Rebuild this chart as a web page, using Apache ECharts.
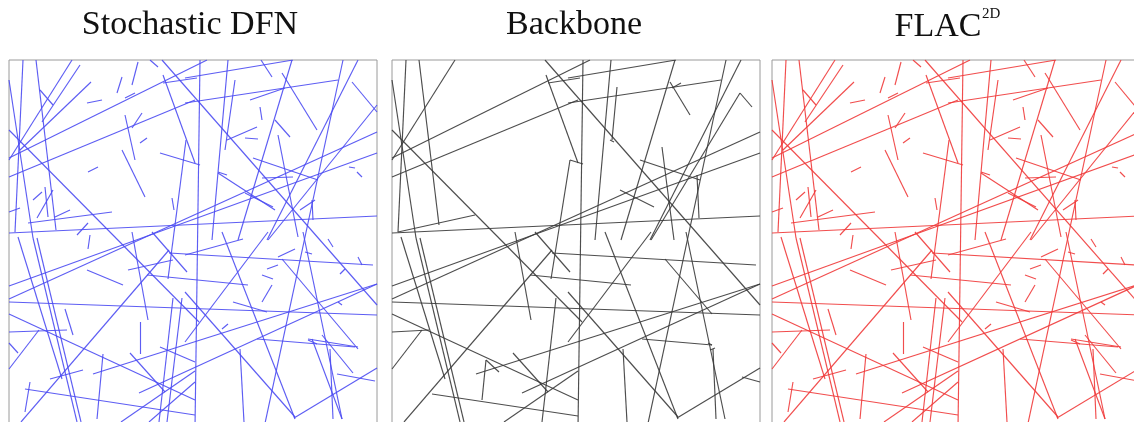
<!DOCTYPE html>
<html lang="en">
<head>
    <meta charset="utf-8">
    <title>DFN - Backbone - FLAC2D</title>
    <script src="https://cdn.jsdelivr.net/npm/echarts@6/dist/echarts.min.js"></script>
    <style>
        html, body { margin: 0; padding: 0; background: #fff; }
        #main { width: 1134px; height: 422px; }
    </style>
</head>
<body>
<div id="main"></div>
<script>
    // domain is 368 x 368 units, y measured downward from the top edge
    var domainSize = 368;

    // stochastic DFN fractures [x1, y1, x2, y2]
    var dfnSegments = [
        [14, 0, 6, 172], [0, 20, 24, 178], [24, 178, 68, 362], [27, 0, 47, 170], [63, 0, 0, 100],
        [71, 5, 33, 62], [82, 22, 11, 90], [31, 30, 44, 45], [0, 70, 190, 262],
        [0, 98, 198, 0], [0, 117, 186, 40], [78, 43, 93, 40], [108, 33, 113, 17],
        [116, 38, 126, 33], [123, 25, 129, 2], [116, 55, 126, 100], [123, 68, 133, 53],
        [131, 83, 138, 78], [113, 90, 136, 137], [79, 112, 89, 107], [163, 138, 165, 150],
        [24, 140, 33, 132], [36, 127, 39, 157], [28, 158, 44, 130], [0, 152, 11, 148],
        [46, 157, 61, 150], [68, 175, 79, 163], [19, 163, 103, 152], [151, 93, 191, 105],
        [154, 15, 186, 103], [177, 80, 159, 219], [154, 23, 188, 18], [0, 173, 368, 156],
        [0, 239, 368, 72], [176, 18, 284, 0], [176, 43, 329, 20], [191, 0, 186, 368],
        [219, 0, 203, 180], [226, 20, 216, 90], [153, 0, 368, 245], [273, 13, 308, 70],
        [283, 0, 229, 180], [241, 40, 276, 28], [251, 47, 253, 60], [266, 60, 281, 77],
        [236, 78, 249, 79], [218, 80, 248, 67], [269, 75, 289, 177], [334, 0, 255, 368],
        [349, 0, 258, 180], [343, 22, 368, 52], [368, 45, 259, 180], [0, 226, 368, 93],
        [253, 118, 284, 117], [244, 98, 309, 120], [236, 133, 264, 147], [209, 113, 266, 150],
        [291, 150, 306, 140], [303, 140, 304, 160], [348, 112, 353, 117], [340, 107, 346, 108],
        [209, 112, 218, 115], [252, 0, 263, 17], [141, 0, 149, 7],
        [0, 242, 368, 255], [0, 272, 58, 270], [0, 254, 186, 340], [28, 178, 72, 362],
        [9, 177, 53, 319], [0, 309, 30, 270], [0, 283, 9, 293], [12, 362, 160, 190], [56, 249, 64, 275],
        [81, 175, 79, 189], [78, 210, 114, 225], [119, 210, 164, 200], [123, 172, 139, 260],
        [131, 262, 131, 294], [151, 287, 186, 302], [84, 314, 368, 224], [41, 319, 74, 310],
        [94, 294, 88, 359], [121, 293, 156, 332], [16, 329, 186, 355], [21, 322, 16, 352],
        [112, 362, 186, 311], [140, 362, 186, 322], [143, 172, 178, 212], [138, 215, 239, 225],
        [164, 238, 150, 362], [173, 238, 158, 362],
        [160, 193, 364, 205], [176, 195, 234, 179], [213, 172, 286, 359], [176, 232, 286, 357],
        [259, 172, 176, 282], [294, 172, 333, 359], [303, 279, 333, 359], [273, 199, 349, 289],
        [299, 279, 349, 287], [248, 279, 346, 287], [130, 333, 368, 224], [231, 289, 235, 362],
        [285, 358, 368, 308], [328, 314, 366, 321], [313, 275, 344, 313], [321, 289, 324, 359],
        [253, 215, 264, 219], [258, 209, 269, 205], [253, 242, 263, 225], [224, 242, 258, 252],
        [213, 269, 219, 264], [269, 197, 286, 189], [296, 192, 303, 194], [299, 280, 308, 284],
        [319, 179, 324, 187], [349, 197, 353, 205], [331, 214, 336, 209], [329, 242, 333, 245]
    ];

    // connected backbone [x1, y1, x2, y2]
    var backboneSegments = [
        [14, 0, 6, 172], [0, 20, 24, 178], [24, 178, 68, 362], [27, 0, 47, 165], [63, 0, 0, 100],
        [0, 70, 190, 262], [0, 98, 198, 0], [0, 117, 186, 40], [176, 43, 329, 20],
        [6, 172, 83, 155], [0, 173, 368, 156], [0, 239, 368, 72], [0, 226, 368, 93],
        [154, 15, 186, 103], [156, 23, 188, 18], [178, 100, 159, 219], [178, 100, 191, 104],
        [153, 0, 368, 245], [191, 0, 186, 368], [176, 18, 284, 0], [219, 0, 203, 180],
        [225, 27, 220, 80], [218, 80, 222, 82], [278, 22, 298, 55], [280, 28, 289, 23],
        [283, 0, 229, 180], [334, 0, 255, 368], [349, 0, 258, 180], [348, 33, 259, 180],
        [348, 33, 360, 47], [270, 87, 282, 180], [248, 100, 308, 120], [228, 130, 262, 147],
        [305, 115, 307, 158],
        [0, 242, 368, 255], [0, 272, 37, 270], [0, 254, 186, 340], [28, 178, 72, 362],
        [9, 177, 53, 319], [0, 309, 30, 270], [12, 362, 160, 190], [84, 314, 368, 224],
        [40, 334, 186, 356], [94, 300, 90, 340], [94, 300, 107, 312], [123, 172, 139, 260],
        [112, 362, 186, 311], [121, 293, 156, 332], [160, 193, 364, 205], [138, 215, 239, 225],
        [164, 238, 150, 362],
        [213, 172, 286, 359], [176, 232, 286, 357], [259, 172, 176, 282], [273, 199, 320, 254],
        [250, 279, 320, 285], [320, 285, 316, 283], [294, 172, 333, 359], [130, 333, 368, 224],
        [231, 289, 235, 362], [285, 358, 368, 308], [350, 317, 368, 322], [321, 289, 324, 359],
        [318, 290, 323, 288], [143, 172, 178, 212]
    ];

    var panelTitles = ['Stochastic DFN', 'Backbone', 'FLAC'];
    var panelLefts = [9, 392, 772];
    var panelColors = ['#4b4bf2', '#3a3a3a', '#f03a3a'];
    var panelData = [dfnSegments, backboneSegments, dfnSegments];

    var myChart = echarts.init(document.getElementById('main'));

    var grids = [], xAxes = [], yAxes = [], series = [];
    for (var i = 0; i < 3; i++) {
        grids.push({
            left: panelLefts[i], top: 60, width: domainSize, height: domainSize,
            outerBoundsMode: 'none', containLabel: false,
            show: true, borderColor: '#9a9a9a', borderWidth: 1, backgroundColor: '#fff'
        });
        xAxes.push({ gridIndex: i, type: 'value', min: 0, max: domainSize, show: false });
        yAxes.push({ gridIndex: i, type: 'value', min: 0, max: domainSize, inverse: true, show: false });
        series.push({
            type: 'lines',
            coordinateSystem: 'cartesian2d',
            xAxisIndex: i,
            yAxisIndex: i,
            clip: true,
            silent: true,
            lineStyle: { color: panelColors[i], width: 1.15, opacity: 0.9, curveness: 0 },
            data: panelData[i].map(function (s) {
                return { coords: [[s[0], s[1]], [s[2], s[3]]] };
            })
        });
    }

    var titleFont = '34px "Liberation Serif", "Times New Roman", serif';
    myChart.setOption({
        animation: false,
        grid: grids,
        xAxis: xAxes,
        yAxis: yAxes,
        series: series,
        graphic: [
            { type: 'text', x: 190, y: 25, style: { text: panelTitles[0], font: titleFont, fill: '#111', align: 'center', verticalAlign: 'middle' } },
            { type: 'text', x: 574, y: 25, style: { text: panelTitles[1], font: titleFont, fill: '#111', align: 'center', verticalAlign: 'middle' } },
            { type: 'text', x: 938, y: 27, style: { text: panelTitles[2], font: titleFont, fill: '#111', align: 'center', verticalAlign: 'middle' } },
            { type: 'text', x: 982, y: 14, style: { text: '2D', font: '15px "Liberation Serif", serif', fill: '#111', align: 'left', verticalAlign: 'middle' } }
        ]
    });
    window.onresize = myChart.resize;
</script>
</body>
</html>
